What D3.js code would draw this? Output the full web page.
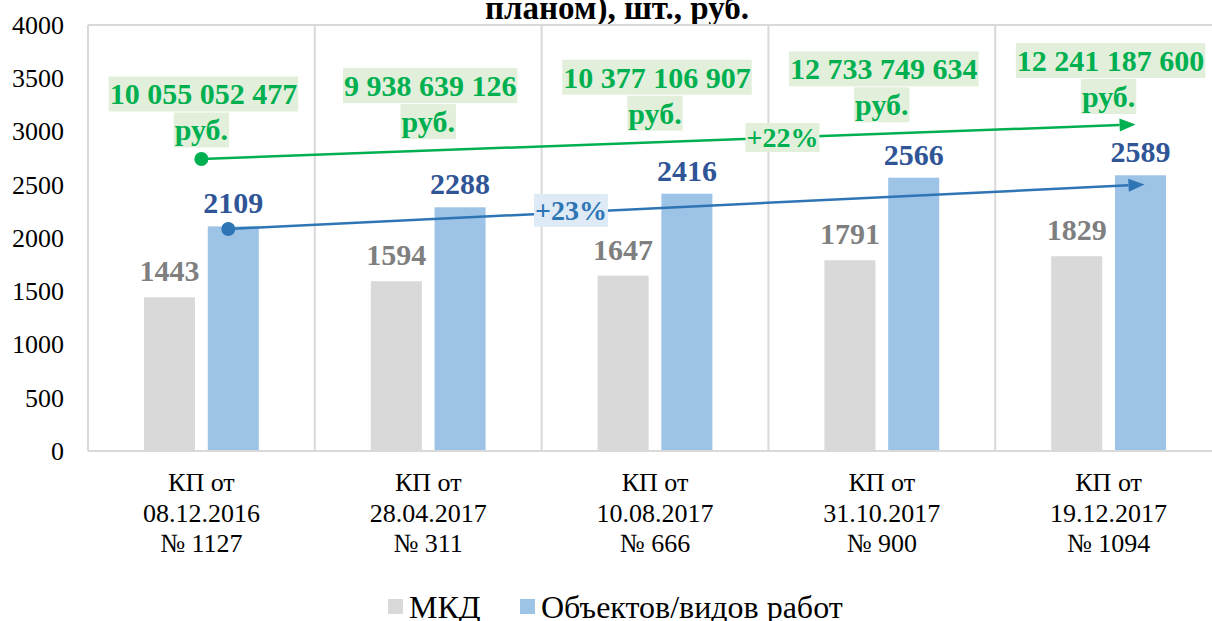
<!DOCTYPE html>
<html>
<head>
<meta charset="utf-8">
<script src="https://cdn.jsdelivr.net/npm/d3@7"></script>
<style>
  body { margin: 0; background: #fff; }
  svg text { font-family: "Liberation Serif", "Times New Roman", serif; }
</style>
</head>
<body>
<script>
// chart data
var categories = [
  ["КП от", "08.12.2016", "№ 1127"],
  ["КП от", "28.04.2017", "№ 311"],
  ["КП от", "10.08.2017", "№ 666"],
  ["КП от", "31.10.2017", "№ 900"],
  ["КП от", "19.12.2017", "№ 1094"]
];
var mkdValues = [1443, 1594, 1647, 1791, 1829];
var objValues = [2109, 2288, 2416, 2566, 2589];
var costLabels = ["10 055 052 477", "9 938 639 126", "10 377 106 907", "12 733 749 634", "12 241 187 600"];
var yTicks = [0, 500, 1000, 1500, 2000, 2500, 3000, 3500, 4000];
var seriesNames = ["МКД", "Объектов/видов работ"];
// trend arrows (start / end value on the y axis) and their labels
var costTrend = [2742, 3066];
var objTrend = [2085, 2502];
var growthLabels = ["+22%", "+23%"];

var w = 1212, h = 621;
var serif = "'Liberation Serif', 'Times New Roman', serif";
var colors = { mkd: "#d9d9d9", obj: "#9dc3e6", grid: "#d9d9d9",
  green: "#00b050", greenBg: "#e2efda", blue: "#2e75b6", blueBg: "#deebf7",
  blueText: "#2f5597", grayText: "#7f7f7f" };

var svg = d3.select("body").append("svg")
  .attr("width", w)
  .attr("height", h)
  .attr("font-family", serif);

// scales
var x0 = d3.scaleBand()
  .domain(d3.range(categories.length))
  .range([88, 88 + 5 * 226.8]);
var bw = x0.bandwidth();
var x1 = d3.scaleBand()
  .domain(["mkd", "obj"])
  .range([56, bw - 56])
  .paddingInner(0.2);
var y = d3.scaleLinear()
  .domain([0, 4000])
  .range([451, 25]);

// title (last visible line)
svg.append("text")
  .attr("x", 617)
  .attr("y", 19)
  .attr("text-anchor", "middle")
  .attr("font-family", serif)
  .style("font-size", "33px")
  .style("font-weight", "bold")
  .text("планом), шт., руб.");

// plot frame and category gridlines
svg.append("line")
  .attr("x1", x0.range()[0]).attr("x2", x0.range()[1])
  .attr("y1", y(4000)).attr("y2", y(4000))
  .style("stroke", colors.grid).style("stroke-width", 2);
svg.selectAll(".vgrid")
  .data(d3.range(categories.length + 1))
  .enter().append("line")
  .attr("class", "vgrid")
  .attr("x1", function(d){ return x0.range()[0] + d * x0.step(); })
  .attr("x2", function(d){ return x0.range()[0] + d * x0.step(); })
  .attr("y1", y(4000)).attr("y2", y(0))
  .style("stroke", colors.grid).style("stroke-width", 2);

// y axis
var yAxis = svg.append("g")
  .attr("transform", "translate(64,0)")
  .call(d3.axisLeft(y).tickValues(yTicks).tickFormat(d3.format("d")).tickSize(0).tickPadding(0));
yAxis.attr("font-family", serif);
yAxis.select(".domain").remove();
yAxis.selectAll("text")
  .attr("font-family", serif)
  .style("font-size", "26px")
  .style("fill", "#000");

// bars
var groups = svg.selectAll(".cat")
  .data(categories)
  .enter().append("g")
  .attr("class", "cat")
  .attr("transform", function(d, i){ return "translate(" + x0(i) + ",0)"; });

groups.append("rect")
  .attr("x", x1("mkd"))
  .attr("width", x1.bandwidth())
  .attr("y", function(d, i){ return y(mkdValues[i]); })
  .attr("height", function(d, i){ return y(0) - y(mkdValues[i]); })
  .style("fill", colors.mkd);
groups.append("rect")
  .attr("x", x1("obj"))
  .attr("width", x1.bandwidth())
  .attr("y", function(d, i){ return y(objValues[i]); })
  .attr("height", function(d, i){ return y(0) - y(objValues[i]); })
  .style("fill", colors.obj);

// bottom axis line
svg.append("line")
  .attr("x1", x0.range()[0]).attr("x2", x0.range()[1])
  .attr("y1", y(0)).attr("y2", y(0))
  .style("stroke", colors.grid).style("stroke-width", 2);

// value labels
groups.append("text")
  .attr("x", x1("mkd") + x1.bandwidth() / 2)
  .attr("y", function(d, i){ return y(mkdValues[i]) - 16; })
  .attr("text-anchor", "middle")
  .style("font-size", "30px").style("font-weight", "bold")
  .style("fill", colors.grayText)
  .text(function(d, i){ return mkdValues[i]; });
groups.append("text")
  .attr("x", x1("obj") + x1.bandwidth() / 2)
  .attr("y", function(d, i){ return y(objValues[i]) - 13; })
  .attr("text-anchor", "middle")
  .style("font-size", "30px").style("font-weight", "bold")
  .style("fill", colors.blueText)
  .text(function(d, i){ return objValues[i]; });

// category labels
groups.append("text")
  .attr("text-anchor", "middle")
  .style("font-size", "26px")
  .selectAll("tspan")
  .data(function(d){ return d; })
  .enter().append("tspan")
  .attr("x", bw / 2)
  .attr("y", function(d, j){ return 491 + j * 30.5; })
  .text(function(d){ return d; });

// helper: arrow with a dot at the start and a filled head at the end
function drawArrow(xs, ys, xe, ye, color){
  var ang = Math.atan2(ye - ys, xe - xs), len = 16, half = 6.5;
  var bx = xe - len * Math.cos(ang), by = ye - len * Math.sin(ang);
  svg.append("line")
    .attr("x1", xs).attr("y1", ys).attr("x2", bx).attr("y2", by)
    .style("stroke", color).style("stroke-width", 2.5);
  svg.append("circle")
    .attr("cx", xs).attr("cy", ys).attr("r", 7)
    .style("fill", color);
  svg.append("path")
    .attr("d", "M" + xe + "," + ye +
      "L" + (bx + half * Math.sin(ang)) + "," + (by - half * Math.cos(ang)) +
      "L" + (bx - half * Math.sin(ang)) + "," + (by + half * Math.cos(ang)) + "Z")
    .style("fill", color);
}

// helper: text with a flat background box
function boxedText(cx, cy, str, size, color, bg, bh){
  var g = svg.append("g");
  var r = g.append("rect").style("fill", bg);
  var t = g.append("text")
    .attr("x", cx).attr("y", cy)
    .attr("text-anchor", "middle")
    .attr("dominant-baseline", "central")
    .attr("font-family", serif)
    .style("font-size", size + "px").style("font-weight", "bold")
    .style("fill", color)
    .text(str);
  var tw = t.node().getComputedTextLength();
  r.attr("x", cx - tw / 2 - 1).attr("width", tw + 2)
    .attr("y", cy - bh / 2).attr("height", bh);
}

// cost trend (green)
var gxs = x0(0) + bw / 2, gxe = x0(4) + bw / 2 + 27;
var gys = y(costTrend[0]), gye = y(costTrend[1]);
drawArrow(gxs, gys, gxe, gye, colors.green);

// object trend (blue)
var bxs = x0(0) + x1("obj") + x1.bandwidth() / 2 - 5;
var bxe = x0(4) + x1("obj") + x1.bandwidth() / 2 + 4;
var bys = y(objTrend[0]), bye = y(objTrend[1]);
drawArrow(bxs, bys, bxe, bye, colors.blue);

// cost labels above the green arrow
costLabels.forEach(function(s, i){
  var cx = x0(i) + bw / 2;
  var ly = gys + (gye - gys) * (cx - gxs) / (gxe - gxs);
  boxedText(cx + 2, ly - 65, s, 30, colors.green, colors.greenBg, 35);
  boxedText(cx, ly - 29, "руб.", 30, colors.green, colors.greenBg, 35);
});

// growth labels on the arrows
var tg = 0.622, tb = 0.374;
boxedText(gxs + (gxe - gxs) * tg, gys + (gye - gys) * tg, growthLabels[0], 28, colors.green, colors.greenBg, 29);
boxedText(bxs + (bxe - bxs) * tb, bys + (bye - bys) * tb - 2, growthLabels[1], 28, colors.blue, colors.blueBg, 33);

// legend
var legend = svg.append("g").attr("transform", "translate(388,0)");
var legendItems = [
  { name: seriesNames[0], color: colors.mkd, x: 0 },
  { name: seriesNames[1], color: colors.obj, x: 132 }
];
legendItems.forEach(function(d){
  legend.append("rect")
    .attr("x", d.x).attr("y", 599)
    .attr("width", 15).attr("height", 15)
    .style("fill", d.color);
  legend.append("text")
    .attr("x", d.x + 21).attr("y", 618)
    .attr("font-family", serif)
    .style("font-size", "32px")
    .text(d.name);
});
</script>
</body>
</html>
